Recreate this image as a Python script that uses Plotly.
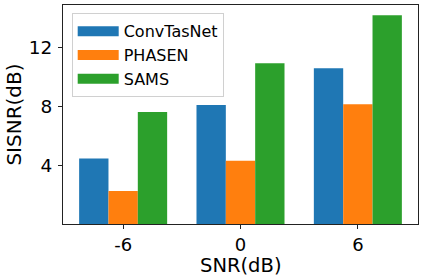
import plotly.graph_objects as go

snr_labels = ["-6", "0", "6"]
series_names = ["ConvTasNet", "PHASEN", "SAMS"]
convtasnet = [4.45, 8.1, 10.6]
phasen = [2.25, 4.3, 8.15]
sams = [7.62, 10.93, 14.2]
y_ticks = [4, 8, 12]

colors = ["#1f77b4", "#ff7f0e", "#2ca02c"]
values = [convtasnet, phasen, sams]

fig = go.Figure()
for name, vals, col in zip(series_names, values, colors):
    fig.add_trace(go.Bar(x=snr_labels, y=vals, name=name, marker_color=col,
                         marker_line_width=0, showlegend=False, legendgroup=name))
# legend entries drawn as wide patches
for name, col in zip(series_names, colors):
    fig.add_trace(go.Scatter(x=[snr_labels[0]], y=[None], mode="lines", name=name,
                             line=dict(color=col, width=10), legendgroup=name,
                             hoverinfo="skip"))

font = "DejaVu Sans"
fig.update_layout(
    width=424, height=280,
    margin=dict(l=63, r=6, t=5, b=56, autoexpand=False),
    paper_bgcolor="white", plot_bgcolor="white",
    barmode="group", bargap=0.25, bargroupgap=0,
    font=dict(family=font, color="black"),
    legend=dict(x=0.0245, y=0.962, xanchor="left", yanchor="top",
                bgcolor="rgba(255,255,255,0.8)", bordercolor="#d0d0d0", borderwidth=1,
                font=dict(family=font, size=16, color="black"),
                itemwidth=41, tracegroupgap=0),
    showlegend=True,
    annotations=[dict(text="SNR(dB)", xref="paper", yref="paper", x=0.5, y=-0.19,
                      xanchor="center", yanchor="middle", showarrow=False,
                      font=dict(size=19.5, family=font, color="black"))],
)
fig.update_xaxes(type="category", range=[-0.5125, 2.5125], automargin=False,
                 showline=True, linecolor="#222", linewidth=1.2, mirror=True,
                 ticks="outside", ticklen=4, tickcolor="#222", tickwidth=1.2,
                 tickfont=dict(size=18, family=font, color="black"),
                 showgrid=False, zeroline=False)
fig.update_yaxes(range=[0, 14.9], tickvals=y_ticks, ticktext=[str(v) for v in y_ticks],
                 automargin=False,
                 showline=True, linecolor="#222", linewidth=1.2, mirror=True,
                 ticks="outside", ticklen=4, tickcolor="#222", tickwidth=1.2,
                 ticklabelstandoff=2,
                 tickfont=dict(size=18.5, family=font, color="black"),
                 title=dict(text="SISNR(dB)", font=dict(size=20, family=font, color="black"), standoff=1),
                 showgrid=False, zeroline=False)

fig.write_html("out.html", config={"displayModeBar": False},
               post_script="document.body.style.margin='0';document.body.style.padding='0';")
